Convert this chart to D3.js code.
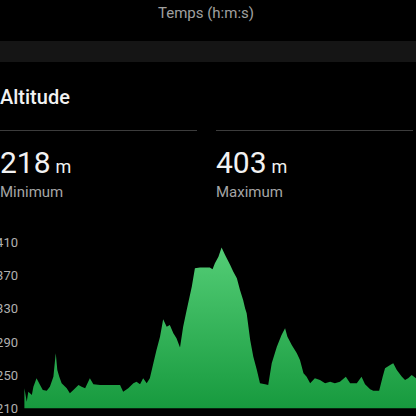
<!DOCTYPE html>
<html>
<head>
<meta charset="utf-8">
<script src="https://cdn.jsdelivr.net/npm/d3@7"></script>
<style>
	html, body {margin: 0; padding: 0; background: #000; overflow: hidden;}
	svg {display: block; font-family: Roboto, "Noto Sans", sans-serif;}
</style>
</head>
<body>
<div id="container"></div>
<script>
// altitude profile, position along the track in % and altitude in m
var pos = [0.1, 0.7, 1.1, 2.0, 2.4, 3.2, 4.1, 4.8, 5.8, 6.6, 7.5, 8.1, 8.5, 9.0, 9.6, 10.9, 11.7, 12.6, 13.9, 14.7,
	15.6, 16.8, 17.7, 19.4, 21.1, 22.8, 24.5, 25.3, 26.6, 27.9, 28.7, 29.6, 30.4, 31.3, 32.1, 33.0, 33.8, 34.7, 35.5, 36.4,
	37.2, 38.1, 38.9, 39.8, 40.6, 41.5, 42.8, 43.6, 44.9, 47.4, 48.1, 48.7, 49.6, 50.4, 51.3, 52.6, 53.4, 54.3, 55.1, 55.9,
	56.4, 56.8, 57.7, 58.5, 59.4, 60.2, 61.5, 62.3, 63.2, 64.5, 65.7, 66.6, 67.2, 68.3, 69.6, 70.4, 71.3, 72.1, 73.0, 74.2,
	75.5, 76.8, 78.1, 79.3, 80.6, 82.1, 83.2, 84.9, 86.1, 87.0, 88.3, 89.1, 90.6, 91.5, 92.1, 93.4, 94.2, 95.1, 96.4, 97.2,
	98.0, 98.9, 100];
var alt = [234, 218, 230, 226, 236, 246, 238, 232, 231, 236, 248, 276, 256, 248, 240, 234, 228, 232, 238, 236,
	234, 246, 239, 238, 238, 238, 238, 230, 234, 240, 242, 239, 246, 240, 246, 264, 280, 296, 317, 308,
	310, 300, 294, 283, 308, 328, 356, 378, 379, 379, 377, 384, 392, 403, 394, 382, 374, 366, 352, 340,
	330, 324, 292, 272, 256, 240, 239, 238, 264, 284, 298, 306, 296, 286, 276, 268, 252, 248, 240, 246,
	244, 240, 242, 240, 242, 248, 240, 240, 248, 239, 233, 231, 231, 248, 258, 262, 264, 256, 248, 244,
	246, 250, 246];
var yTicks = [210, 250, 290, 330, 370, 410];
var stats = [{value: 218, label: 'Minimum'}, {value: 403, label: 'Maximum'}];

var W = 416, H = 416;
var svg = d3.select('#container').append('svg')
	.attr('width', W)
	.attr('height', H);

//header from the chart above
svg.append('text')
	.attr('x', 206).attr('y', 18)
	.attr('text-anchor', 'middle')
	.attr('fill', '#a0a0a0')
	.style('font-size', '15px')
	.text('Temps (h:m:s)');

svg.append('rect')
	.attr('x', 0).attr('y', 41)
	.attr('width', W).attr('height', 21)
	.attr('fill', '#151515');

svg.append('text')
	.attr('x', 0).attr('y', 104)
	.attr('fill', '#f2f2f2')
	.style('font-size', '20px')
	.style('font-weight', 500)
	.text('Altitude');

//stat blocks
var colX = [0, 216];
stats.forEach((s, i) => {
	var x0 = colX[i];
	svg.append('line')
		.attr('x1', x0).attr('x2', x0 + 197)
		.attr('y1', 130.5).attr('y2', 130.5)
		.attr('stroke', '#3c3c3c');

	var t = svg.append('text')
		.attr('x', x0).attr('y', 173)
		.attr('fill', '#f2f2f2');
	t.append('tspan').style('font-size', '30px').text(s.value);
	t.append('tspan').style('font-size', '18px').attr('dx', 5).text('m');

	svg.append('text')
		.attr('x', x0).attr('y', 197)
		.attr('fill', '#a6a6a6')
		.style('font-size', '15px')
		.text(s.label);
});

//area chart
var x = d3.scaleLinear().domain([0, 100]).range([24, 416]);
var y = d3.scaleLinear().domain([210, 410]).range([408.3, 241.7]);

var defs = svg.append('defs');
var grad = defs.append('linearGradient')
	.attr('id', 'altgrad')
	.attr('gradientUnits', 'userSpaceOnUse')
	.attr('x1', 0).attr('x2', 0)
	.attr('y1', y(410)).attr('y2', y(210));
grad.append('stop').attr('offset', '0%').style('stop-color', '#56cf78');
grad.append('stop').attr('offset', '100%').style('stop-color', '#179a3e');

var data = pos.map((p, i) => ({p: p, a: alt[i]}));

var area = d3.area()
	.x(d => x(d.p))
	.y0(y(210))
	.y1(d => y(d.a));

svg.append('path')
	.datum(data)
	.attr('d', area)
	.attr('fill', 'url(#altgrad)');

var axis = d3.axisLeft(y).tickValues(yTicks).tickSize(0).tickPadding(0);
var gAxis = svg.append('g')
	.attr('transform', 'translate(18,0)')
	.call(axis);
gAxis.select('.domain').remove();
gAxis.selectAll('text')
	.attr('fill', '#b0b0b0')
	.attr('dy', '0.35em')
	.style('font-size', '13px')
	.style('font-family', 'Roboto, sans-serif');
</script>
</body>
</html>
